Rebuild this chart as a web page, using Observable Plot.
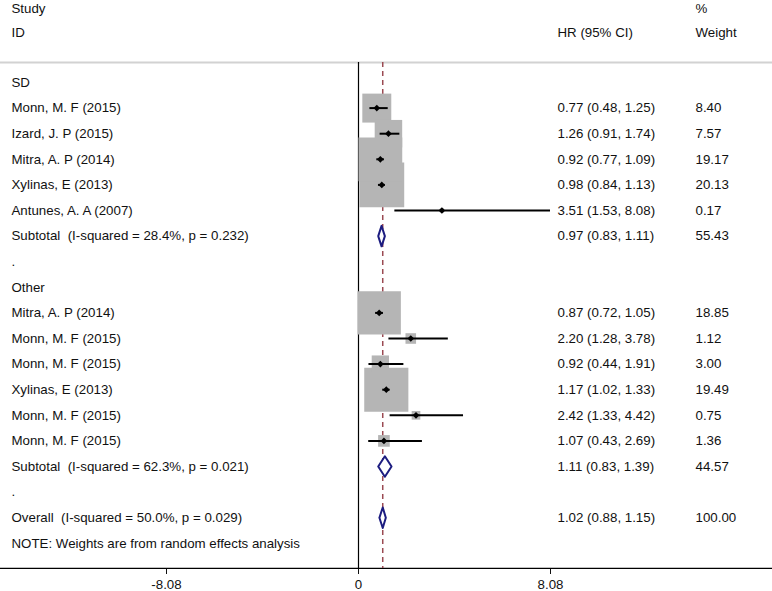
<!DOCTYPE html>
<html>
<head>
<meta charset="utf-8">
<script src="https://cdn.jsdelivr.net/npm/d3@7"></script>
<script src="https://cdn.jsdelivr.net/npm/@observablehq/plot@0.6"></script>
<style>
  html, body { margin: 0; padding: 0; background: #fff; }
  svg text { white-space: pre; }
</style>
</head>
<body>
<div id="chart"></div>
<script>
// ---- data ----
const rowLabels = [
  "SD",
  "Monn, M. F (2015)",
  "Izard, J. P (2015)",
  "Mitra, A. P (2014)",
  "Xylinas, E (2013)",
  "Antunes, A. A (2007)",
  "Subtotal  (I-squared = 28.4%, p = 0.232)",
  ".",
  "Other",
  "Mitra, A. P (2014)",
  "Monn, M. F (2015)",
  "Monn, M. F (2015)",
  "Xylinas, E (2013)",
  "Monn, M. F (2015)",
  "Monn, M. F (2015)",
  "Subtotal  (I-squared = 62.3%, p = 0.021)",
  ".",
  "Overall  (I-squared = 50.0%, p = 0.029)",
  "NOTE: Weights are from random effects analysis"
];
// study rows (index into rowLabels)
const studyRow    = [1, 2, 3, 4, 5, 9, 10, 11, 12, 13, 14];
const studyHR     = [0.77, 1.26, 0.92, 0.98, 3.51, 0.87, 2.20, 0.92, 1.17, 2.42, 1.07];
const studyLo     = [0.48, 0.91, 0.77, 0.84, 1.53, 0.72, 1.28, 0.44, 1.02, 1.33, 0.43];
const studyHi     = [1.25, 1.74, 1.09, 1.13, 8.08, 1.05, 3.78, 1.91, 1.33, 4.42, 2.69];
const studyWeight = [8.40, 7.57, 19.17, 20.13, 0.17, 18.85, 1.12, 3.00, 19.49, 0.75, 1.36];
// pooled rows
const pooledRow    = [6, 15, 17];
const pooledHR     = [0.97, 1.11, 1.02];
const pooledLo     = [0.83, 0.83, 0.88];
const pooledHi     = [1.11, 1.39, 1.15];
const pooledWeight = [55.43, 44.57, 100.00];
const overallHR = 1.02;
const xTicks = [-8.08, 0, 8.08];
const headerLeft  = ["Study", "ID"];
const headerHR    = ["", "HR (95% CI)"];
const headerW     = ["%", "Weight"];

// ---- build tables ----
const studies = studyRow.map((r, i) => ({
  row: r, hr: studyHR[i], lo: studyLo[i], hi: studyHi[i], w: studyWeight[i]
}));
const pooled = pooledRow.map((r, i) => ({
  row: r, hr: pooledHR[i], lo: pooledLo[i], hi: pooledHi[i], w: pooledWeight[i]
}));
const allRows = studies.concat(pooled);
const HALF = 0.4; // diamond half-height in rows
const diamondPts = pooled.flatMap((d, k) => [
  {id: k, x: d.lo, y: d.row},
  {id: k, x: d.hr, y: d.row - HALF},
  {id: k, x: d.hi, y: d.row},
  {id: k, x: d.hr, y: d.row + HALF},
  {id: k, x: d.lo, y: d.row}
]);
const labelRows = rowLabels.map((t, i) => ({row: i, text: t}));
const headerRows = [-2.9, -1.95].map((r, i) => ({row: r, left: headerLeft[i], hr: headerHR[i], w: headerW[i]}));

const TOP = -0.78, BOTTOM = 18.98;
const FS = 13.3;
const fmt2 = v => v.toFixed(2);

const chart = Plot.plot({
  width: 772,
  height: 591,
  marginTop: 0,
  marginRight: 0,
  marginBottom: 23,
  marginLeft: 0,
  style: {fontFamily: "'Liberation Sans', Arial, sans-serif", fontSize: "13.3px", color: "#111", background: "#fff"},
  x: {domain: [-8.08, 8.08], range: [166, 550], ticks: xTicks,
      tickFormat: d => d === 0 ? "0" : d.toFixed(2), tickSize: 6, tickPadding: 5, label: null},
  y: {domain: [0, 18], range: [82, 542.8], axis: null},
  r: {type: "sqrt", domain: [0, 100], range: [0, 56.4]},
  marks: [
    Plot.ruleY([TOP], {stroke: "#d2d2d2", strokeWidth: 2}),
    Plot.ruleY([BOTTOM], {stroke: "#000", strokeWidth: 1.3}),
    Plot.ruleX([0], {y1: TOP, y2: BOTTOM, stroke: "#000", strokeWidth: 1.2}),
    Plot.ruleX([overallHR], {y1: TOP, y2: BOTTOM, stroke: "#9b4a52", strokeWidth: 1.5, strokeDasharray: "5,4"}),
    Plot.dot(studies, {x: "hr", y: "row", r: "w", symbol: "square", fill: "#b5b5b5", stroke: null}),
    Plot.ruleY(studies, {y: "row", x1: "lo", x2: "hi", stroke: "#000", strokeWidth: 2}),
    Plot.dot(studies, {x: "hr", y: "row", r: 3, symbol: "diamond2", fill: "#000", stroke: null}),
    Plot.line(diamondPts, {x: "x", y: "y", z: "id", fill: "#fff", stroke: "#1c1c80", strokeWidth: 2, curve: "linear"}),
    Plot.text(labelRows, {y: "row", text: "text", frameAnchor: "left", dx: 11, textAnchor: "start", fontSize: FS, fill: "#111"}),
    Plot.text(headerRows, {y: "row", text: "left", frameAnchor: "left", dx: 11, textAnchor: "start", fontSize: FS, fill: "#111"}),
    Plot.text(headerRows, {y: "row", text: "hr", frameAnchor: "left", dx: 557, textAnchor: "start", fontSize: FS, fill: "#111"}),
    Plot.text(headerRows, {y: "row", text: "w", frameAnchor: "left", dx: 695, textAnchor: "start", fontSize: FS, fill: "#111"}),
    Plot.text(allRows, {y: "row", text: d => `${fmt2(d.hr)} (${fmt2(d.lo)}, ${fmt2(d.hi)})`, frameAnchor: "left", dx: 557, textAnchor: "start", fontSize: FS, fill: "#111"}),
    Plot.text(allRows, {y: "row", text: d => fmt2(d.w), frameAnchor: "left", dx: 695, textAnchor: "start", fontSize: FS, fill: "#111"})
  ]
});
document.getElementById("chart").appendChild(chart);
</script>
</body>
</html>
